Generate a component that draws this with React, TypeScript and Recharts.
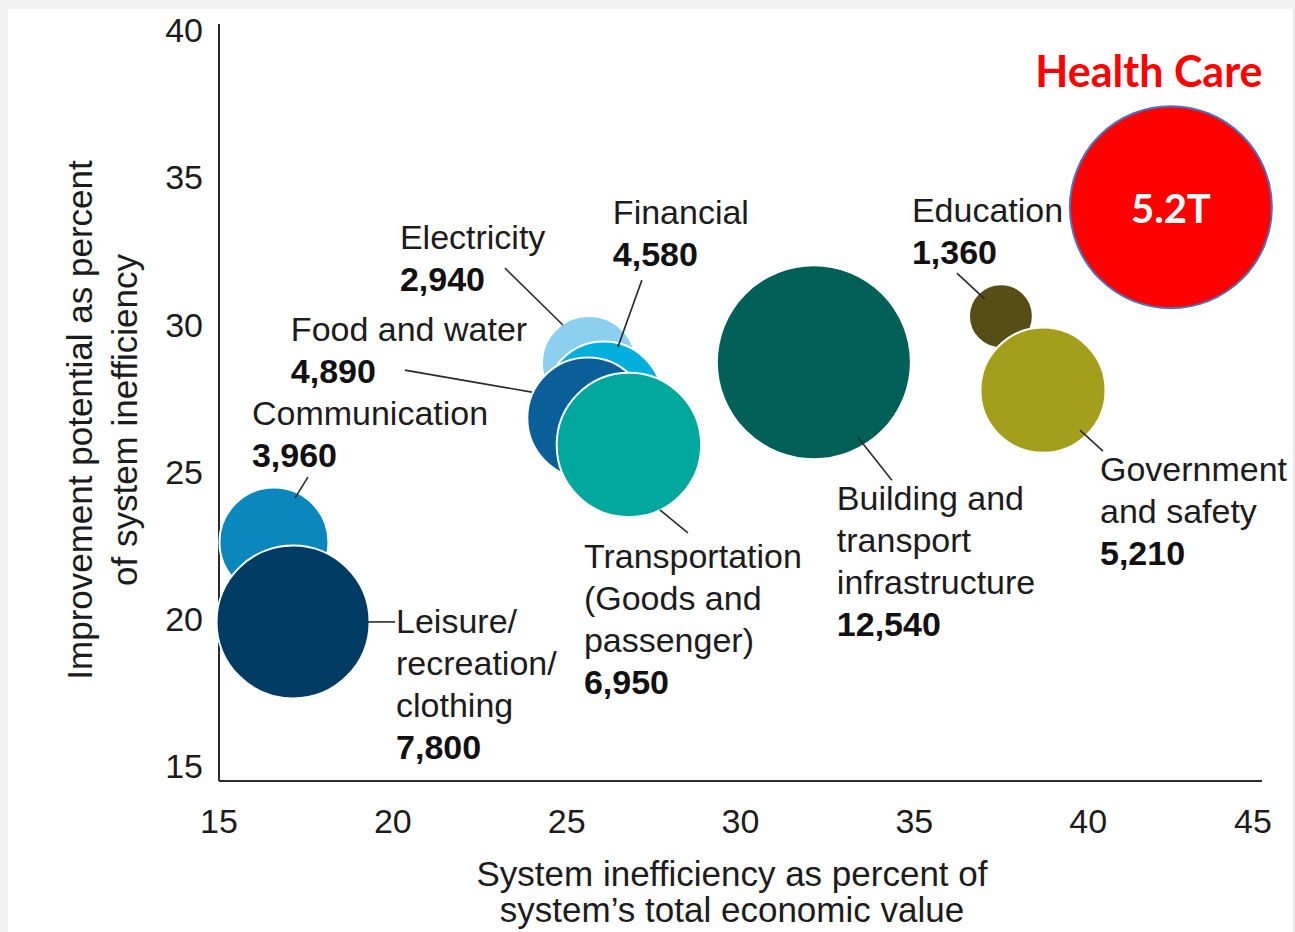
import { ScatterChart, Scatter, XAxis, YAxis, ZAxis } from "recharts";

const sectors = [
  "Electricity",
  "Financial",
  "Food and water",
  "Transportation (Goods and passenger)",
  "Communication",
  "Leisure/recreation/clothing",
  "Building and transport infrastructure",
  "Education",
  "Government and safety",
];
const labelLines = [
  ["Electricity"],
  ["Financial"],
  ["Food and water"],
  ["Transportation", "(Goods and", "passenger)"],
  ["Communication"],
  ["Leisure/", "recreation/", "clothing"],
  ["Building and", "transport", "infrastructure"],
  ["Education"],
  ["Government", "and safety"],
];
// system inefficiency (% of total economic value)
const inefficiency = [25.64, 26.07, 25.61, 26.79, 16.58, 17.13, 32.11, 37.49, 38.7];
// improvement potential (% of system inefficiency)
const improvement = [28.69, 27.43, 26.82, 25.91, 22.61, 19.9, 28.72, 30.28, 27.77];
// bubble value
const sizes = [2940, 4580, 4890, 6950, 3960, 7800, 12540, 1360, 5210];
const colors = ["#8ccfef", "#00afdc", "#0a5f98", "#00a79d", "#0a88be", "#003b64", "#005f56", "#574e17", "#a39e1b"];

const healthName = "Health Care";
const healthX = 42.38;
const healthY = 33.98;
const healthValue = 5.2; // trillions

const xTicks = [15, 20, 25, 30, 35, 40, 45];
const yTicks = [15, 20, 25, 30, 35, 40];

const points = sectors.map((name, i) => ({ name, i, x: inefficiency[i], y: improvement[i], z: sizes[i] }));
const health = [{ name: healthName, x: healthX, y: healthY, z: healthValue }];

const FONT = '"Liberation Sans", Arial, Helvetica, sans-serif';
const INK = "#1c1c1c";
const FS = 34;
const LH = 42;

// label placement relative to bubble centre: text left, first baseline, leader line
const place = [
  { tx: -189, ty: -114, l: [-84, -95, -26, -38] },
  { tx: 9, ty: -176, l: [38, -120, 14, -53] },
  { tx: -297, ty: -77, l: [-183, -48, -56, -26] },
  { tx: -45, ty: 123, l: [31, 65, 59, 88] },
  { tx: -22, ty: -117, l: [34, -65, 21, -44] },
  { tx: 103, ty: 11, l: [75, 0, 102, 0] },
  { tx: 23, ty: 148, l: [44, 75, 78, 118] },
  { tx: -89, ty: -94, l: [-44, -43, -16, -17] },
  { tx: 57, ty: 91, l: [37, 40, 60, 61] },
];

function Bubble(props: any) {
  const { cx, cy, width, payload } = props;
  return <circle cx={cx} cy={cy} r={width / 2} fill={colors[payload.i]} stroke="#ffffff" strokeWidth={2} />;
}

function Tag(props: any) {
  const { cx, cy, payload } = props;
  const p = place[payload.i];
  const lines = labelLines[payload.i];
  const x = cx + p.tx;
  return (
    <g>
      <line x1={cx + p.l[0]} y1={cy + p.l[1]} x2={cx + p.l[2]} y2={cy + p.l[3]} stroke="#2a2a2a" strokeWidth={1.6} />
      <text fontFamily={FONT} fontSize={FS} fill={INK}>
        {lines.map((t, k) => (
          <tspan key={k} x={x} y={cy + p.ty + k * LH}>
            {t}
          </tspan>
        ))}
        <tspan x={x} y={cy + p.ty + lines.length * LH} fontWeight="bold" fill="#111">
          {sizes[payload.i].toLocaleString("en-US")}
        </tspan>
      </text>
    </g>
  );
}

function HealthBubble(props: any) {
  const { cx, cy, width } = props;
  return (
    <g>
      <circle cx={cx} cy={cy} r={width / 2} fill="#ff0000" stroke="#4a74c0" strokeWidth={2} />
      <text x={cx} y={cy + 16} textAnchor="middle" fontFamily="Lato, 'Open Sans', sans-serif" fontWeight="bold" fontSize={40} fill="#ffffff">
        {healthValue}T
      </text>
      <text x={cx - 22} y={cy - 120} textAnchor="middle" fontFamily="Lato, 'Open Sans', sans-serif" fontWeight="bold" fontSize={43} fill="#ff0000">
        {healthName}
      </text>
    </g>
  );
}

function XTick(props: any) {
  const { x, y, payload } = props;
  const last = payload.value === xTicks[xTicks.length - 1];
  return (
    <text x={last ? x - 9 : x} y={y + 24} textAnchor="middle" fontFamily={FONT} fontSize={FS} fill={INK}>
      {payload.value}
    </text>
  );
}

function YTitle() {
  return (
    <text transform="rotate(-90, 0, 0)" fontFamily={FONT} fontSize={35} fill={INK} textAnchor="middle">
      <tspan x={-420} y={92}>Improvement potential as percent</tspan>
      <tspan x={-420} y={137}>of system inefficiency</tspan>
    </text>
  );
}

function XTitle() {
  return (
    <text fontFamily={FONT} fontSize={35} fill={INK} textAnchor="middle">
      <tspan x={732} y={886}>System inefficiency as percent of</tspan>
      <tspan x={732} y={922}>system’s total economic value</tspan>
    </text>
  );
}

export default function App() {
  return (
    <div style={{ position: "absolute", left: 0, top: 0, width: 1295, height: 932, background: "#f2f2f2", overflow: "hidden" }}>
      <div style={{ position: "absolute", left: 8, top: 9, width: 1285, height: 923, background: "#ffffff", borderRight: "1px solid #e4e4e4" }} />
      <div style={{ position: "absolute", left: 0, top: 0 }}>
        <ScatterChart width={1295} height={932} margin={{ top: 24, right: 33, bottom: 51, left: 0 }}>
          <XAxis
            type="number"
            dataKey="x"
            domain={[15, 45]}
            ticks={xTicks}
            height={100}
            tickSize={0}
            tickMargin={28}
            tickLine={false}
            axisLine={{ stroke: "#2b2b2b", strokeWidth: 2 }}
            tick={XTick}
            label={XTitle}
          />
          <YAxis
            type="number"
            dataKey="y"
            domain={[14.5, 40.2]}
            ticks={yTicks}
            width={219}
            tickSize={0}
            tickMargin={16}
            tickLine={false}
            axisLine={{ stroke: "#2b2b2b", strokeWidth: 2 }}
            tick={{ fontSize: FS, fontFamily: FONT, fill: INK }}
            label={YTitle}
          />
          <ZAxis type="number" dataKey="z" domain={[0, 12540]} range={[0, 29559]} />
          <ZAxis zAxisId="hc" type="number" dataKey="z" domain={[0, 5.2]} range={[0, 32047]} />
          <Scatter name="Sectors" data={points} shape={Bubble} isAnimationActive={false} />
          <Scatter name="Labels" data={points} shape={Tag} isAnimationActive={false} />
          <Scatter name={healthName} data={health} zAxisId="hc" shape={HealthBubble} isAnimationActive={false} />
        </ScatterChart>
      </div>
    </div>
  );
}
